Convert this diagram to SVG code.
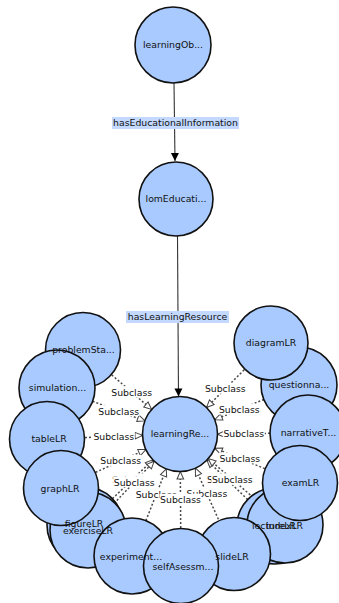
<svg xmlns="http://www.w3.org/2000/svg" width="339" height="603" viewBox="0 0 339 603">
  <style>
    .node { fill: #a8caff; stroke: #111; stroke-width: 1.6; }
    .nlabel { font-family: "DejaVu Sans", Verdana, sans-serif; font-size: 9.3px; fill: #111; text-anchor: middle; }
    .elabel { font-family: "DejaVu Sans", Verdana, sans-serif; font-size: 9.3px; fill: #111; text-anchor: middle; }
    .prop { stroke: #333; stroke-width: 1.1; fill: none; marker-end: url(#solidHead); }
    .sub { stroke: #4a4a4a; stroke-width: 1.5; stroke-dasharray: 2 2; fill: none; marker-end: url(#hollowHead); }
    .propbg { fill: #c3d9ff; }
    .subbg { fill: #fff; }
  </style>
  <defs>
    <marker id="solidHead" markerUnits="userSpaceOnUse" markerWidth="10" markerHeight="10" refX="8" refY="4" orient="auto" overflow="visible">
      <path d="M0,0 L8,4 L0,8 z" fill="#000"/>
    </marker>
    <marker id="hollowHead" markerUnits="userSpaceOnUse" markerWidth="10" markerHeight="10" refX="8" refY="3.6" orient="auto" overflow="visible">
      <path d="M0.5,0.3 L8,3.6 L0.5,6.9 z" fill="#fff" stroke="#444" stroke-width="1"/>
    </marker>
  </defs>

  <rect width="339" height="603" fill="#fff"/>

  <!-- connectors -->
  <g id="connectors">
    <line class="prop" x1="174" y1="83" x2="175" y2="161"/>
    <line class="prop" x1="177.5" y1="236" x2="178.5" y2="396.5"/>

    <line class="sub" x1="111.7" y1="374.9" x2="151.6" y2="409.4"/>
    <line class="sub" x1="92.6" y1="401.3" x2="144.9" y2="420.9"/>
    <line class="sub" x1="85" y1="437.6" x2="142.5" y2="435.4"/>
    <line class="sub" x1="95.6" y1="472.3" x2="145.9" y2="449.5"/>
    <line class="sub" x1="112.4" y1="498.7" x2="152.9" y2="459.9"/>
    <line class="sub" x1="114.1" y1="503.4" x2="154.2" y2="461.2"/>
    <line class="sub" x1="145.9" y1="520.6" x2="166.3" y2="468.9"/>
    <line class="sub" x1="180.7" y1="528" x2="180.3" y2="471.5"/>
    <line class="sub" x1="218.4" y1="519.3" x2="195.4" y2="468.2"/>
    <line class="sub" x1="247.7" y1="499.6" x2="206.9" y2="460.1"/>
    <line class="sub" x1="256.3" y1="500.1" x2="208.3" y2="458.6"/>
    <line class="sub" x1="264.8" y1="468.6" x2="214.7" y2="448.2"/>
    <line class="sub" x1="270" y1="433.3" x2="217.5" y2="434.3"/>
    <line class="sub" x1="263.9" y1="399.5" x2="214.7" y2="419.7"/>
    <line class="sub" x1="244.1" y1="369.9" x2="206.5" y2="407.5"/>

    <!-- property labels -->
    <rect class="propbg" x="112" y="117" width="127" height="12"/>
    <text class="elabel" x="175.5" y="126.4">hasEducationalInformation</text>
    <rect class="propbg" x="126" y="311" width="103" height="12"/>
    <text class="elabel" x="177.5" y="320.4">hasLearningResource</text>

    <!-- subclass labels -->
    <g>
      <rect class="subbg" x="110.7" y="386.2" width="42" height="11"/>
      <text class="elabel" x="131.7" y="395.6">Subclass</text>
      <rect class="subbg" x="97.7" y="405.1" width="42" height="11"/>
      <text class="elabel" x="118.7" y="414.5">Subclass</text>
      <rect class="subbg" x="92.8" y="430.5" width="42" height="11"/>
      <text class="elabel" x="113.8" y="439.9">Subclass</text>
      <rect class="subbg" x="99.7" y="454.9" width="42" height="11"/>
      <text class="elabel" x="120.7" y="464.3">Subclass</text>
      <rect class="subbg" x="111.7" y="473.3" width="42" height="11"/>
      <text class="elabel" x="132.7" y="482.7">Subclass</text>
      <rect class="subbg" x="113.2" y="476.3" width="42" height="11"/>
      <text class="elabel" x="134.2" y="485.7">Subclass</text>
      <rect class="subbg" x="135.1" y="488.7" width="42" height="11"/>
      <text class="elabel" x="156.1" y="498.1">Subclass</text>
      <rect class="subbg" x="185.9" y="487.7" width="42" height="11"/>
      <text class="elabel" x="206.9" y="497.1">Subclass</text>
      <rect class="subbg" x="159.5" y="493.7" width="42" height="11"/>
      <text class="elabel" x="180.5" y="503.1">Subclass</text>
      <rect class="subbg" x="206.3" y="473.9" width="42" height="11"/>
      <text class="elabel" x="227.3" y="483.3">Subclass</text>
      <rect class="subbg" x="211.3" y="473.4" width="42" height="11"/>
      <text class="elabel" x="232.3" y="482.8">Subclass</text>
      <rect class="subbg" x="218.8" y="452.4" width="42" height="11"/>
      <text class="elabel" x="239.8" y="461.8">Subclass</text>
      <rect class="subbg" x="222.8" y="427.8" width="42" height="11"/>
      <text class="elabel" x="243.8" y="437.2">Subclass</text>
      <rect class="subbg" x="218.3" y="403.6" width="42" height="11"/>
      <text class="elabel" x="239.3" y="413">Subclass</text>
      <rect class="subbg" x="204.3" y="382.7" width="42" height="11"/>
      <text class="elabel" x="225.3" y="392.1">Subclass</text>
    </g>
  </g>

  <!-- nodes, lowest first -->
  <g id="node-learningObject"><circle class="node" cx="173" cy="45" r="38"/></g>
  <g id="node-lomEducational"><circle class="node" cx="176" cy="199" r="37"/></g>
  <g id="node-problemStatementLR"><circle class="node" cx="83" cy="350" r="37.5"/></g>
  <g id="node-simulationLR"><circle class="node" cx="57" cy="388" r="38"/></g>
  <g id="node-tableLR"><circle class="node" cx="47" cy="439" r="37.5"/></g>
  <g id="node-lectureLR"><circle class="node" cx="275" cy="526" r="38"/></g>
  <g id="node-indexLR"><circle class="node" cx="285" cy="525" r="38"/></g>
  <g id="node-figureLR"><circle class="node" cx="85" cy="525" r="38"/></g>
  <g id="node-exerciseLR"><circle class="node" cx="88" cy="530" r="38"/></g>
  <g id="node-graphLR"><circle class="node" cx="61" cy="488" r="37.5"/></g>
  <g id="node-experimentLR"><circle class="node" cx="132" cy="556" r="38"/></g>
  <g id="node-slideLR"><circle class="node" cx="234" cy="554" r="36.5"/></g>
  <g id="node-selfAssessmentLR"><circle class="node" cx="181" cy="566" r="37.5"/></g>
  <g id="node-questionnaireLR"><circle class="node" cx="299" cy="385" r="38"/></g>
  <g id="node-diagramLR"><circle class="node" cx="271" cy="343" r="37"/></g>
  <g id="node-narrativeTextLR"><circle class="node" cx="308" cy="433" r="38"/></g>
  <g id="node-examLR"><circle class="node" cx="300" cy="483" r="37.5"/></g>
  <g id="node-learningResource"><circle class="node" cx="180" cy="434" r="37.5"/></g>

  <!-- node names on top so overlapping circles keep every name readable -->
  <g id="node-labels">
    <text class="nlabel" x="173" y="48.4">learningOb...</text>
    <text class="nlabel" x="176" y="202.4">lomEducati...</text>
    <text class="nlabel" x="83.5" y="353.4">problemSta...</text>
    <text class="nlabel" x="57.5" y="391.4">simulation...</text>
    <text class="nlabel" x="49" y="442.4">tableLR</text>
    <text class="nlabel" x="60" y="492.4">graphLR</text>
    <text class="nlabel" x="84" y="527.4">figureLR</text>
    <text class="nlabel" x="88" y="534.4">exerciseLR</text>
    <text class="nlabel" x="131" y="560.4">experiment...</text>
    <text class="nlabel" x="183" y="570">selfAsessm...</text>
    <text class="nlabel" x="232" y="560.4">slideLR</text>
    <text class="nlabel" x="274" y="529.4">lectureLR</text>
    <text class="nlabel" x="284.5" y="529.4">indexLR</text>
    <text class="nlabel" x="300.5" y="486.4">examLR</text>
    <text class="nlabel" x="308.5" y="436.4">narrativeT...</text>
    <text class="nlabel" x="299" y="388.4">questionna...</text>
    <text class="nlabel" x="271" y="346.4">diagramLR</text>
    <text class="nlabel" x="180" y="437.4">learningRe...</text>
  </g>
</svg>
